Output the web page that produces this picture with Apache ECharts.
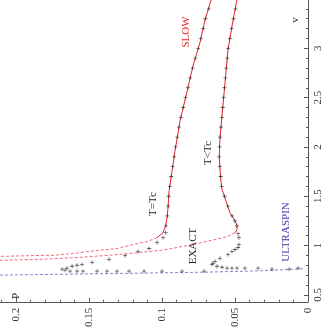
<!DOCTYPE html>
<html>
<head>
<meta charset="utf-8">
<script src="https://cdn.jsdelivr.net/npm/echarts@6/dist/echarts.min.js"></script>
<style>
  html, body { margin: 0; padding: 0; background: #fff; }
  #main { width: 324px; height: 330px; }
</style>
</head>
<body>
<div id="main"></div>
<script>
// axis ticks (P along the bottom, v along the right side, picture is turned 90deg)
var pTicks = [0, 0.05, 0.1, 0.15, 0.2]
var pMinor = [0.01, 0.02, 0.03, 0.04, 0.06, 0.07, 0.08, 0.09, 0.11, 0.12, 0.13, 0.14, 0.16, 0.17, 0.18, 0.19, 0.21]
var vTicks = [0.5, 1, 1.5, 2, 2.5, 3]
var vMinor = [0.6, 0.7, 0.8, 0.9, 1.1, 1.2, 1.3, 1.4, 1.6, 1.7, 1.8, 1.9, 2.1, 2.2, 2.3, 2.4, 2.6, 2.7, 2.8, 2.9, 3.1, 3.2, 3.3, 3.4]

// [P, v] pairs
// SLOW approximation, T = Tc
var slowTc = [[0.0662,3.50],[0.0705,3.29],[0.0740,3.06],[0.0788,2.82],[0.0829,2.56],[0.0877,2.26],[0.0911,1.96],
  [0.0932,1.75],[0.0952,1.55],[0.0959,1.38],[0.0966,1.28],[0.0975,1.20],[0.0993,1.13],[0.1034,1.08]]
var slowTcDash = [[0.1034,1.08],[0.1103,1.04],[0.1199,1.01],[0.1308,0.97],[0.1445,0.95],[0.1610,0.92],
  [0.1747,0.90],[0.1836,0.90],[0.2110,0.89]]
// SLOW approximation, T < Tc
var slowLow = [[0.0486,3.50],[0.0521,3.22],[0.0548,2.99],[0.0568,2.66],[0.0589,2.32],[0.0603,2.09],[0.0608,1.90],
  [0.0600,1.71],[0.0591,1.58],[0.0568,1.48],[0.0534,1.33],[0.0500,1.25],[0.0486,1.20],[0.0486,1.16],[0.0500,1.13]]
var slowLowDash = [[0.0500,1.13],[0.0555,1.09],[0.0671,1.05],[0.0788,1.01],[0.0897,0.98],[0.1014,0.95],
  [0.1288,0.91],[0.1562,0.88],[0.1836,0.86],[0.2110,0.85]]
// ultraspin limit
var ultraspin = [[0.211,0.70],[0.14,0.715],[0.07,0.73],[0.03,0.745],[0.003,0.765]]
// exact points, T = Tc
var exactTc = [[0.0680,3.4],[0.0703,3.3],[0.0718,3.2],[0.0734,3.1],[0.0752,3.0],[0.0772,2.9],[0.0791,2.8],
  [0.0807,2.7],[0.0823,2.6],[0.0839,2.5],[0.0855,2.4],[0.0871,2.3],[0.0884,2.2],[0.0896,2.1],[0.0907,2.0],
  [0.0917,1.9],[0.0927,1.8],[0.0937,1.7],[0.0947,1.6],[0.0954,1.5],[0.0958,1.4],[0.0964,1.3],[0.0973,1.2],
  [0.0975,1.13],[0.0993,1.08],[0.1034,1.03],[0.1089,0.97],[0.1164,0.94],[0.1253,0.90],[0.1363,0.86],
  [0.1479,0.83],[0.1548,0.81],[0.1582,0.80],[0.1616,0.79],[0.1651,0.77],[0.1685,0.76],
  [0.1664,0.75],[0.1630,0.74],[0.1582,0.74],[0.1541,0.74],[0.1445,0.74],[0.1377,0.74],[0.1308,0.74],
  [0.1226,0.74],[0.1123,0.74],[0.1000,0.74],[0.0863,0.74],[0.0712,0.74]]
// exact points, T < Tc
var exactLow = [[0.0497,3.4],[0.0510,3.3],[0.0523,3.2],[0.0535,3.1],[0.0547,3.0],[0.0553,2.9],[0.0560,2.8],
  [0.0566,2.7],[0.0572,2.6],[0.0578,2.5],[0.0584,2.4],[0.0590,2.3],[0.0596,2.2],[0.0602,2.1],[0.0606,2.0],
  [0.0608,1.9],[0.0604,1.8],[0.0598,1.7],[0.0591,1.6],[0.0572,1.5],[0.0549,1.4],[0.0520,1.3],[0.0501,1.25],
  [0.0487,1.2],[0.0479,1.12],[0.0473,1.08],[0.0473,1.01],[0.0479,0.98],[0.0500,0.96],[0.0521,0.94],
  [0.0548,0.91],[0.0603,0.87],[0.0637,0.84],[0.0651,0.82],[0.0658,0.81],[0.0623,0.79],[0.0589,0.78],
  [0.0555,0.77],[0.0521,0.77],[0.0486,0.77],[0.0432,0.77],[0.0342,0.77],[0.0247,0.76],[0.0130,0.76],[0.0068,0.77]]

var font = 'Liberation Serif'
var axisCol = '#555'
var plus = 'path://M2,0H3V2H5V3H3V5H2V3H0V2H2Z'
var pMin = 0, pMax = 0.211, vMin = 0.43, vMax = 3.49

var myChart = echarts.init(document.getElementById('main'))

function line(data, color, dashed) {
  return {
    type: 'line', data: data, symbol: 'none', animation: false, silent: true,
    lineStyle: { color: color, width: 1, type: dashed ? [3, 2] : 'solid' }
  }
}
function pts(data) {
  return {
    type: 'scatter', data: data, symbol: plus, symbolSize: 4, animation: false, silent: true, z: 5,
    itemStyle: { color: '#333' }
  }
}
function txt(s, x, y, color) {
  return {
    type: 'text', x: x, y: y, rotation: Math.PI / 2, silent: true,
    style: { text: s, fill: color, font: '11px "' + font + '"', align: 'center', verticalAlign: 'middle' }
  }
}

var option = {
  backgroundColor: '#fff',
  grid: { left: 0, right: 16, top: 0, bottom: 25 },
  xAxis: [{
    type: 'value', min: pMin, max: pMax, inverse: true, position: 'bottom',
    splitLine: { show: false },
    axisLine: { lineStyle: { color: axisCol, width: 1 } },
    axisTick: { inside: true, length: 4, customValues: pTicks, lineStyle: { color: axisCol } },
    axisLabel: { customValues: pTicks, rotate: 90, margin: 6, color: '#333', fontFamily: font, fontSize: 11 }
  }, {
    type: 'value', min: pMin, max: pMax, inverse: true, position: 'bottom',
    splitLine: { show: false }, axisLine: { show: false }, axisLabel: { show: false },
    axisTick: { inside: true, length: 2, customValues: pMinor, lineStyle: { color: axisCol } }
  }],
  yAxis: [{
    type: 'value', min: vMin, max: vMax, position: 'right',
    splitLine: { show: false },
    axisLine: { lineStyle: { color: axisCol, width: 1 } },
    axisTick: { inside: true, length: 4, customValues: vTicks, lineStyle: { color: axisCol } },
    axisLabel: { customValues: vTicks, rotate: 90, margin: 5, color: '#333', fontFamily: font, fontSize: 11 }
  }, {
    type: 'value', min: vMin, max: vMax, position: 'right',
    splitLine: { show: false }, axisLine: { show: false }, axisLabel: { show: false },
    axisTick: { inside: true, length: 2, customValues: vMinor, lineStyle: { color: axisCol } }
  }],
  series: [
    line(ultraspin, '#8585cc', true),
    line(slowTcDash, '#f36b78', true),
    line(slowLowDash, '#f36b78', true),
    line(slowTc, '#e8232d', false),
    line(slowLow, '#e8232d', false),
    pts(exactTc),
    pts(exactLow)
  ],
  graphic: [
    txt('SLOW', 186, 32, '#e8232d'),
    txt('T=Tc', 153, 204, '#222'),
    txt('T<Tc', 208, 153, '#222'),
    txt('EXACT', 193, 246, '#222'),
    txt('ULTRASPIN', 286, 232, '#3b3ba8'),
    txt('P', 16, 296, '#222'),
    txt('v', 295, 20, '#222')
  ]
}
myChart.setOption(option)
window.onresize = function () { myChart.resize() }
</script>
</body>
</html>
